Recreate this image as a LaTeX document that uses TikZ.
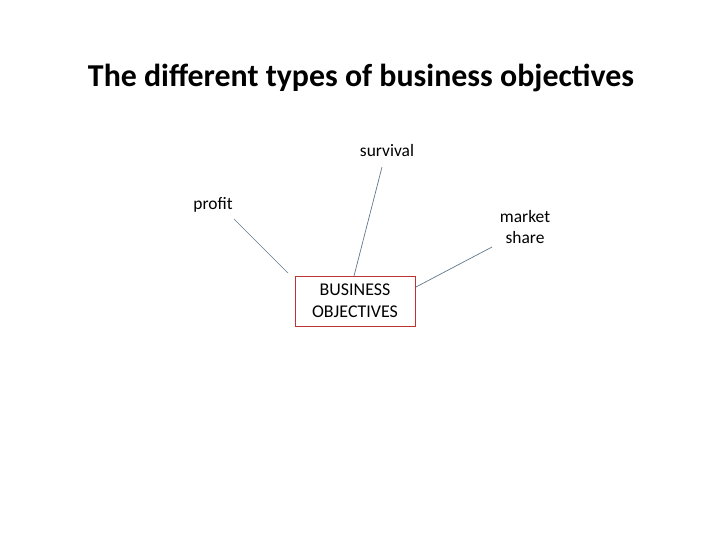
\documentclass[tikz,border=0pt]{standalone}
\usepackage{fontspec}
\setmainfont{Carlito}
\begin{document}
\begin{tikzpicture}[x=1bp,y=-1bp,
  lbl/.style={font=\fontsize{17.5}{22}\selectfont, align=center, inner sep=0pt},
  conn/.style={draw={rgb,255:red,95;green,120;blue,140}, line width=0.7bp}]
\useasboundingbox (0,0) rectangle (720,540);
\node[font=\bfseries\fontsize{32}{36}\selectfont, inner sep=0pt] (title) at (361,78) {The different types of business objectives};
\node[lbl] (surv) at (387,151) {survival};
\node[lbl] (prof) at (213,205) {profit};
\node[lbl] (mkt) at (525,227) {market\\share};
\node[lbl, font=\fontsize{18}{22}\selectfont, draw={rgb,255:red,190;green,50;blue,50}, line width=0.8bp, minimum width=120bp, minimum height=50bp] (obj) at (355,301) {BUSINESS\\OBJECTIVES};
\coordinate (s1) at (382,167); \coordinate (s2) at (354,276);
\coordinate (p1) at (234,219); \coordinate (p2) at (288,273);
\coordinate (m1) at (492,247); \coordinate (m2) at (416,287);
\draw[conn] (s1) -- (s2);
\draw[conn] (p1) -- (p2);
\draw[conn] (m1) -- (m2);
\end{tikzpicture}
\end{document}
